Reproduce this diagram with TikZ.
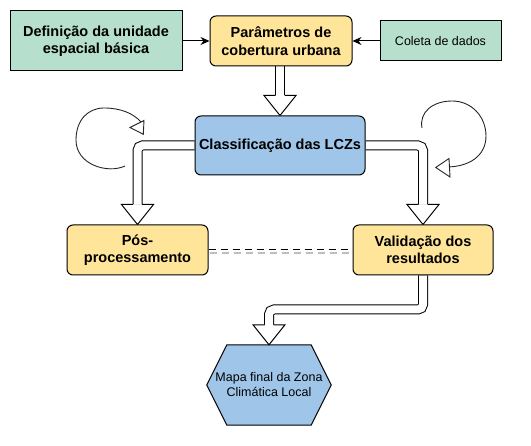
\documentclass[tikz,border=0pt]{standalone}
\usepackage{fontspec}
\setmainfont{Liberation Sans}
\usetikzlibrary{calc,arrows.meta}
\pgfdeclarelayer{bg}
\pgfsetlayers{bg,main}
\definecolor{boxgreen}{HTML}{B6E0CD}
\definecolor{boxyellow}{HTML}{FFE599}
\definecolor{boxblue}{HTML}{9FC5E8}
\newcommand\fxhead[1]{\filldraw[fill=white,line width=1pt,line join=miter]
  ($(#1)+(-4.5,-20)$) -- ($(#1)+(-16,-20)$) -- (#1) -- ($(#1)+(16,-20)$) -- ($(#1)+(4.5,-20)$);}
\tikzset{
  boldtxt/.style={font=\fontsize{14.5}{17.4}\selectfont\bfseries, align=center},
  plaintxt/.style={font=\fontsize{12.5}{15}\selectfont, align=center},
  sqbox/.style={draw=black, line width=1pt, fill=boxgreen, inner sep=0pt},
  rbox/.style={draw=black, line width=1pt, rounded corners=6pt, inner sep=0pt},
  flexshaft/.style={line width=1pt, double=white, double distance=8pt, rounded corners=5pt},
  thinarrow/.style={line width=1pt, -{Stealth[length=9pt,width=8pt]}},
  loopline/.style={line width=0.9pt, black!85},
  loophead/.style={line width=0.9pt, draw=black!85, fill=white, line join=miter}
}
\begin{document}
\begin{tikzpicture}[x=1pt,y=-1pt]
\useasboundingbox (0,0) rectangle (531,446);
% nodes
\node[sqbox, boldtxt, minimum width=172pt, minimum height=60pt] (def) at (96,41) {Definição da unidade\\espacial básica};
\node[rbox, fill=boxyellow, boldtxt, minimum width=142pt, minimum height=50pt] (par) at (281,41) {Parâmetros de\\cobertura urbana};
\node[sqbox, plaintxt, minimum width=121pt, minimum height=40pt] (col) at (440.5,41) {Coleta de dados};
\node[rbox, fill=boxblue, boldtxt, minimum width=170pt, minimum height=59pt] (cls) at (280,145.5) {Classificação das LCZs};
\node[rbox, fill=boxyellow, boldtxt, minimum width=141pt, minimum height=50pt] (pos) at (137.5,250) {Pós-\\processamento};
\node[rbox, fill=boxyellow, boldtxt, minimum width=140pt, minimum height=50pt] (val) at (423,250) {Validação dos\\resultados};
\node[plaintxt, minimum width=124pt, minimum height=80pt, inner sep=0pt] (hex) at (269,385) {Mapa final da Zona\\Climática Local};
\begin{pgfonlayer}{bg}
\filldraw[fill=boxblue, draw=black, line width=1pt, line join=miter]
  (hex.west) -- ($(hex.north west)+(20,0)$) -- ($(hex.north east)+(-20,0)$) -- (hex.east)
  -- ($(hex.south east)+(-20,0)$) -- ($(hex.south west)+(20,0)$) -- cycle;
% thin arrows
\draw[thinarrow] (def.east) -- (par.west);
\draw[thinarrow] (col.west) -- (par.east);
% flex arrows
\draw[flexshaft] (par.south -| cls.north) -- ($(cls.north)+(0,-20)$);
\fxhead{cls.north}
\draw[flexshaft] (cls.west) -- (cls.west -| pos.north) -- ($(pos.north)+(0,-20)$);
\fxhead{pos.north}
\draw[flexshaft] (cls.east) -- (cls.east -| val.north) -- ($(val.north)+(0,-20)$);
\fxhead{val.north}
\coordinate (mid) at (0,309.5);
\draw[flexshaft] (val.south) -- (val.south |- mid) -- (hex.north |- mid) -- ($(hex.north)+(0,-20)$);
\fxhead{hex.north}
% dashed link with shadow
\draw[black!25, line width=1.6pt, dash pattern=on 7pt off 5pt] ($(pos.east)+(1,3)$) -- ($(val.west)+(1,3)$);
\draw[line width=1pt, dash pattern=on 7pt off 5pt] ($(pos.east)+(0,-0.5)$) -- ($(val.west)+(0,-0.5)$);
\end{pgfonlayer}
% loops
\coordinate (la) at (125,166);
\coordinate (lb) at (141,122);
\draw[loopline] (la) .. controls (108,174) and (76,165) .. (76,140)
  .. controls (76,120) and (88,108) .. (104,108)
  .. controls (120,108) and (133,113) .. (lb);
\filldraw[loophead] (130,127.5) -- (144,120.5) -- (143.3,134.3) -- cycle;
\coordinate (ra) at (422,128);
\coordinate (rb) at (446,167);
\draw[loopline] (ra) .. controls (419,112) and (433,101) .. (452,101)
  .. controls (472,101) and (486,117) .. (486,136)
  .. controls (486,156) and (469,167) .. (rb);
\filldraw[loophead] (435.7,167.5) -- (449,158.5) -- (450,177) -- cycle;
\end{tikzpicture}
\end{document}
